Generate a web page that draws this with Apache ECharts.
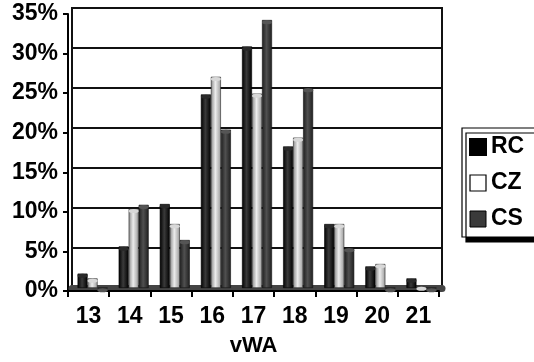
<!DOCTYPE html>
<html>
<head>
<meta charset="utf-8">
<script src="https://cdn.jsdelivr.net/npm/echarts@6/dist/echarts.min.js"></script>
<style>html,body{margin:0;padding:0;background:#fff}#c{width:534px;height:362px}</style>
</head>
<body>
<div id="c"></div>
<script>
var categories = ['13','14','15','16','17','18','19','20','21'];
var seriesNames = ['RC','CZ','CS'];
var rcValues = [1.8, 5.2, 10.5, 24.2, 30.2, 17.7, 8.0, 2.7, 1.2];
var czValues = [1.2, 9.9, 8.0, 26.4, 24.3, 18.8, 8.0, 3.0, 0.2];
var csValues = [0.0, 10.4, 6.0, 19.8, 33.5, 25.0, 5.0, 0.0, 0.0];
var yTicks = [0, 5, 10, 15, 20, 25, 30, 35];
var axisName = 'vWA';

var FONT = '"Liberation Sans", Arial, sans-serif';
function grad(a, b, c) {
  return {type:'linear', x:0, y:0, x2:1, y2:0, colorStops:[
    {offset:0, color:a},{offset:0.45, color:b},{offset:1, color:c}]};
}
var styles = [
  {body: grad('#000','#3a3a3a','#000'), top:'#2a2a2a', border:'#000', legend:{color:'#000'}},
  {body: grad('#8a8a8a','#ececec','#9a9a9a'), top:'#d8d8d8', border:'#222', legend:{color:'#fff', borderColor:'#000', borderWidth:1.2}},
  {body: grad('#1e1e1e','#505050','#1e1e1e'), top:'#555', border:'#111', legend:{color:'#3a3a3a', borderColor:'#000', borderWidth:1}}
];
var dataSets = [rcValues, czValues, csValues];

var series = [];
dataSets.forEach(function(d, i){
  series.push({
    name: seriesNames[i], type:'bar', xAxisIndex:0, yAxisIndex:0,
    data: d, barWidth:10, barGap:'0%', z:3,
    itemStyle:{color: styles[i].body, borderColor: styles[i].border, borderWidth:0.6}
  });
});
dataSets.forEach(function(d, i){
  series.push({
    name: seriesNames[i], type:'pictorialBar', xAxisIndex:0, yAxisIndex:0,
    data: d, barWidth:10, barGap:'0%', symbol:'circle', symbolSize:[10,4],
    symbolPosition:'end', z:4,
    itemStyle:{color: styles[i].top, borderColor:'#000', borderWidth:0.8}
  });
});

var chart = echarts.init(document.getElementById('c'), null, {renderer:'canvas'});
chart.setOption({
  animation:false,
  backgroundColor:'#fff',
  textStyle:{fontFamily:FONT},
  grid:[
    {left:72, right:92, top:8, bottom:74, show:true, borderColor:'#111', borderWidth:2, backgroundColor:'transparent', containLabel:false},
    {left:68, right:95, top:14, bottom:67, show:false, containLabel:false}
  ],
  xAxis:[
    {type:'category', gridIndex:0, data:categories, offset:3,
     axisLine:{show:true, lineStyle:{color:'#444', width:7}},
     axisTick:{show:false}, axisLabel:{show:false}, splitLine:{show:false}},
    {type:'category', gridIndex:1, data:categories,
     name: axisName, nameLocation:'middle', nameGap:44,
     nameTextStyle:{fontFamily:FONT, fontWeight:'bold', fontSize:22, color:'#000'},
     axisLine:{show:true, lineStyle:{color:'#000', width:2}},
     axisTick:{show:true, length:6, lineStyle:{color:'#000', width:2}},
     axisLabel:{margin:14, fontFamily:FONT, fontWeight:'bold', fontSize:23, color:'#000'}}
  ],
  yAxis:[
    {type:'value', gridIndex:0, min:yTicks[0], max:yTicks[yTicks.length-1], interval:5,
     axisLine:{show:false}, axisTick:{show:false}, axisLabel:{show:false},
     splitLine:{show:true, lineStyle:{color:'#111', width:2}}},
    {type:'value', gridIndex:1, min:yTicks[0], max:yTicks[yTicks.length-1], interval:5,
     axisLine:{show:true, lineStyle:{color:'#000', width:2}},
     axisTick:{show:true, length:5, lineStyle:{color:'#000', width:2}},
     splitLine:{show:false},
     axisLabel:{margin:10, fontFamily:FONT, fontWeight:'bold', fontSize:23, color:'#000', formatter:'{value}%'}}
  ],
  legend:{
    orient:'vertical', left:462, top:128,
    padding:[7,40,6,7], itemGap:12, itemWidth:16, itemHeight:16, icon:'rect',
    backgroundColor:'#fff', borderColor:'#000', borderWidth:1.2,
    shadowColor:'#000', shadowOffsetX:4, shadowOffsetY:5, shadowBlur:0,
    textStyle:{fontFamily:FONT, fontWeight:'bold', fontSize:23, color:'#000', lineHeight:24},
    data: seriesNames.map(function(n, i){ return {name:n, itemStyle:styles[i].legend}; })
  },
  series: series
});
</script>
</body>
</html>
